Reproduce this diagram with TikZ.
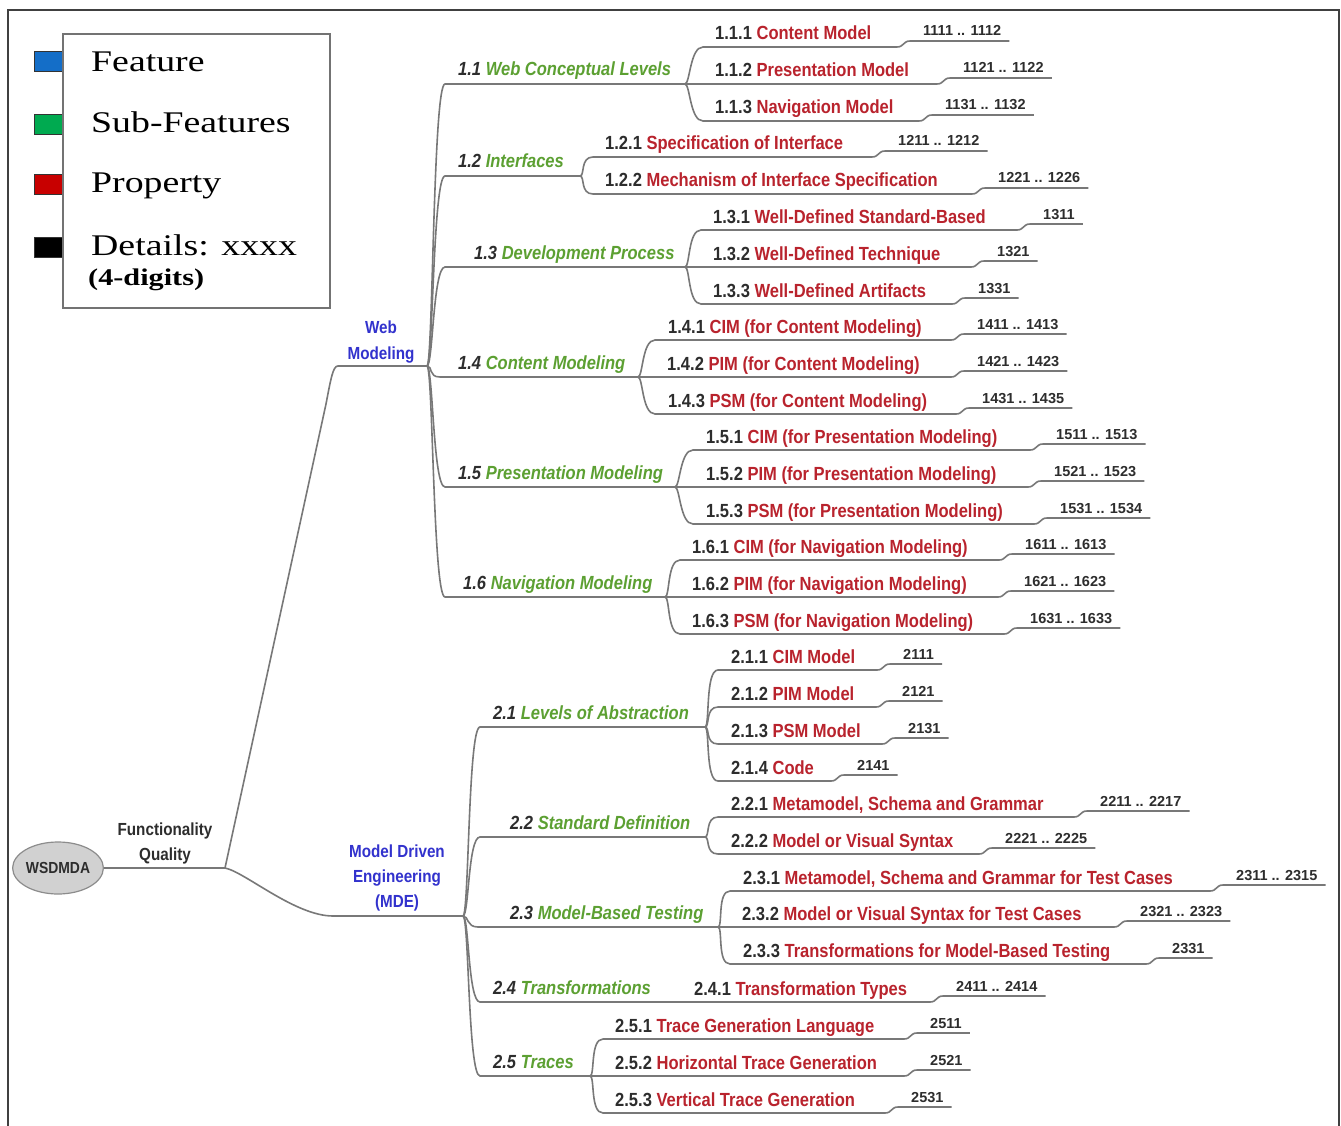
\documentclass[tikz,border=0pt]{standalone}
\usepackage{fontspec}
\setmainfont{Liberation Sans}
\newfontfamily\cfont[FakeStretch=0.87]{Liberation Sans}
\newfontfamily\numfont{Liberation Sans}
\newfontfamily\legfont[FakeStretch=1.26]{Liberation Serif}
\usetikzlibrary{shapes.geometric,calc}
\definecolor{lc}{RGB}{120,120,120}
\definecolor{subg}{RGB}{92,160,50}
\definecolor{propr}{RGB}{185,35,45}
\definecolor{numg}{RGB}{45,45,45}
\definecolor{featb}{RGB}{50,50,205}
\definecolor{legb}{RGB}{20,110,200}
\definecolor{legg}{RGB}{0,170,80}
\definecolor{legr}{RGB}{200,0,0}
\tikzset{
  conn/.style={draw=lc, line width=1.6},
  ptext/.style={inner sep=0, font=\cfont\fontsize{19}{22}\selectfont\bfseries},
  stext/.style={inner sep=0, font=\cfont\fontsize{19}{22}\selectfont\bfseries\itshape},
  ntext/.style={inner sep=0, text=numg, font=\numfont\fontsize{14.5}{17}\selectfont\bfseries},
  ftext/.style={inner sep=0, align=center, text=featb, font=\cfont\fontsize{17.5}{26}\selectfont\bfseries},
  qtext/.style={inner sep=0, align=center, text=numg, font=\cfont\fontsize{17.5}{25}\selectfont\bfseries},
  legtext/.style={inner sep=0, font=\legfont\fontsize{30}{32}\selectfont},
  legsq/.style={draw=black!80, line width=1},
  legbox/.style={draw=black!55, line width=2},
}
% sub-feature: name, parent, y, xstart, xtext, num, label, xend
\newcommand\subf[8]{%
  \coordinate (#1-s) at (#4,#3);
  \coordinate (#1-j) at (#8,#3);
  \node[stext, anchor=base west] (#1) at (#5,#3-8) {\textcolor{numg}{#6} \textcolor{subg}{#7}};
  \draw[conn] (#2) .. controls ($(#2)+(6,0)$) and ($(#1-s)+(-12,0)$) .. (#1-s) -- (#1-j);
}
% leaf: name, parent, y, xstart, xtext, num, label, xnum, numbers
\newcommand\leaf[9]{%
  \coordinate (#1-s) at (#4,#3);
  \coordinate (#1-e) at (#8-26,#3);
  \coordinate (#1-ns) at (#8-13,#3-6);
  \node[ptext, anchor=base west] (#1) at (#5,#3-7) {\textcolor{numg}{#6} \textcolor{propr}{#7}};
  \node[ntext, anchor=base west] (#1-n) at (#8,#3-11) {#9};
  \draw[conn] (#2) .. controls ($(#2)+(5,0)$) and ($(#1-s)+(-13,0)$) .. (#1-s) -- (#1-e)
    .. controls ($(#1-e)+(7,0)$) and ($(#1-ns)+(-7,0)$) .. (#1-ns)
    -- ($(#1-n.east |- #1-ns)+(8,0)$);
}
\begin{document}
\begin{tikzpicture}[x=1pt,y=-1pt]
\useasboundingbox (0,0) rectangle (1341,1126);
\fill[white] (0,0) rectangle (1341,1126);
\draw[line width=2, draw=black!75] (8,1126) -- (8,10) -- (1339,10) -- (1339,1126);

% legend
\filldraw[legsq, fill=legb] (34,52) rectangle (63,72);
\filldraw[legsq, fill=legg] (34,115) rectangle (63,135);
\filldraw[legsq, fill=legr] (34,175) rectangle (63,195);
\filldraw[legsq, fill=black] (34,237) rectangle (63,257);
\draw[legbox] (63,34) rectangle (330,308);
\node[legtext, anchor=base west] (lf) at (91,72) {Feature};
\node[legtext, anchor=base west] (lsf) at (91,133) {Sub-Features};
\node[legtext, anchor=base west] (lp) at (91,193) {Property};
\node[legtext, anchor=base west] (ld) at (91,255) {Details: xxxx};
\node[inner sep=0, anchor=base west, font=\legfont\fontsize{24}{26}\selectfont\bfseries] (ld2) at (88,285) {(4-digits)};

% root
\node[ellipse, draw=black!45, fill=black!18, line width=1.2, minimum width=88, minimum height=52, inner sep=0,
      text=numg, font=\cfont\fontsize{16}{18}\selectfont\bfseries] (root) at (58,868) {WSDMDA};
\coordinate (rootj) at (225,868);
\draw[conn] (root.east) -- (rootj);
\node[qtext] (fq) at (165,843) {Functionality\\Quality};

% features
\coordinate (wm-s) at (338,366);
\coordinate (wm-j) at (427,366);
\node[ftext] (wm) at (381,342) {Web\\Modeling};
\draw[conn] (rootj) -- (326,404) .. controls (331,378) and (333,366) .. (wm-s) -- (wm-j);

\coordinate (mde-s) at (333,916);
\coordinate (mde-j) at (463,916);
\node[ftext, font=\cfont\fontsize{17.5}{25}\selectfont\bfseries] (mde) at (397,878) {Model Driven\\Engineering\\(MDE)};
\draw[conn] (rootj) .. controls (245,872) and (295,916) .. (mde-s) -- (mde-j);

% Web Modeling
\subf{s11}{wm-j}{84}{445}{458}{1.1}{Web Conceptual Levels}{685}
\leaf{p111}{s11-j}{47}{703}{715}{1.1.1}{Content Model}{923}{1111 .. 1112}
\leaf{p112}{s11-j}{84}{703}{715}{1.1.2}{Presentation Model}{963}{1121 .. 1122}
\leaf{p113}{s11-j}{121}{703}{715}{1.1.3}{Navigation Model}{945}{1131 .. 1132}
\subf{s12}{wm-j}{176}{445}{458}{1.2}{Interfaces}{580}
\leaf{p121}{s12-j}{157}{593}{605}{1.2.1}{Specification of Interface}{898}{1211 .. 1212}
\leaf{p122}{s12-j}{194}{593}{605}{1.2.2}{Mechanism of Interface Specification}{998}{1221 .. 1226}
\subf{s13}{wm-j}{267}{445}{474}{1.3}{Development Process}{685}
\leaf{p131}{s13-j}{230}{701}{713}{1.3.1}{Well-Defined Standard-Based}{1043}{1311}
\leaf{p132}{s13-j}{267}{701}{713}{1.3.2}{Well-Defined Technique}{997}{1321}
\leaf{p133}{s13-j}{304}{701}{713}{1.3.3}{Well-Defined Artifacts}{978}{1331}
\subf{s14}{wm-j}{377}{440}{458}{1.4}{Content Modeling}{638}
\leaf{p141}{s14-j}{340}{655}{668}{1.4.1}{CIM (for Content Modeling)}{977}{1411 .. 1413}
\leaf{p142}{s14-j}{377}{655}{667}{1.4.2}{PIM (for Content Modeling)}{977}{1421 .. 1423}
\leaf{p143}{s14-j}{414}{655}{668}{1.4.3}{PSM (for Content Modeling)}{982}{1431 .. 1435}
\subf{s15}{wm-j}{487}{445}{458}{1.5}{Presentation Modeling}{675}
\leaf{p151}{s15-j}{450}{693}{706}{1.5.1}{CIM (for Presentation Modeling)}{1056}{1511 .. 1513}
\leaf{p152}{s15-j}{487}{693}{706}{1.5.2}{PIM (for Presentation Modeling)}{1054}{1521 .. 1523}
\leaf{p153}{s15-j}{524}{693}{706}{1.5.3}{PSM (for Presentation Modeling)}{1060}{1531 .. 1534}
\subf{s16}{wm-j}{597}{445}{463}{1.6}{Navigation Modeling}{665}
\leaf{p161}{s16-j}{560}{680}{692}{1.6.1}{CIM (for Navigation Modeling)}{1025}{1611 .. 1613}
\leaf{p162}{s16-j}{597}{680}{692}{1.6.2}{PIM (for Navigation Modeling)}{1024}{1621 .. 1623}
\leaf{p163}{s16-j}{634}{680}{692}{1.6.3}{PSM (for Navigation Modeling)}{1030}{1631 .. 1633}

% MDE
\subf{s21}{mde-j}{727}{480}{493}{2.1}{Levels of Abstraction}{705}
\leaf{p211}{s21-j}{670}{718}{731}{2.1.1}{CIM Model}{903}{2111}
\leaf{p212}{s21-j}{707}{718}{731}{2.1.2}{PIM Model}{902}{2121}
\leaf{p213}{s21-j}{744}{718}{731}{2.1.3}{PSM Model}{908}{2131}
\leaf{p214}{s21-j}{781}{718}{731}{2.1.4}{Code}{857}{2141}
\subf{s22}{mde-j}{837}{480}{510}{2.2}{Standard Definition}{705}
\leaf{p221}{s22-j}{817}{718}{731}{2.2.1}{Metamodel, Schema and Grammar}{1100}{2211 .. 2217}
\leaf{p222}{s22-j}{854}{718}{731}{2.2.2}{Model or Visual Syntax}{1005}{2221 .. 2225}
\subf{s23}{mde-j}{927}{478}{510}{2.3}{Model-Based Testing}{718}
\leaf{p231}{s23-j}{891}{730}{743}{2.3.1}{Metamodel, Schema and Grammar for Test Cases}{1236}{2311 .. 2315}
\leaf{p232}{s23-j}{927}{730}{742}{2.3.2}{Model or Visual Syntax for Test Cases}{1140}{2321 .. 2323}
\leaf{p233}{s23-j}{964}{730}{743}{2.3.3}{Transformations for Model-Based Testing}{1172}{2331}
\subf{s24}{mde-j}{1002}{480}{493}{2.4}{Transformations}{668}
\leaf{p241}{s24-j}{1002}{682}{694}{2.4.1}{Transformation Types}{956}{2411 .. 2414}
\subf{s25}{mde-j}{1076}{480}{493}{2.5}{Traces}{590}
\leaf{p251}{s25-j}{1039}{603}{615}{2.5.1}{Trace Generation Language}{930}{2511}
\leaf{p252}{s25-j}{1076}{603}{615}{2.5.2}{Horizontal Trace Generation}{930}{2521}
\leaf{p253}{s25-j}{1113}{603}{615}{2.5.3}{Vertical Trace Generation}{911}{2531}
\end{tikzpicture}
\end{document}
